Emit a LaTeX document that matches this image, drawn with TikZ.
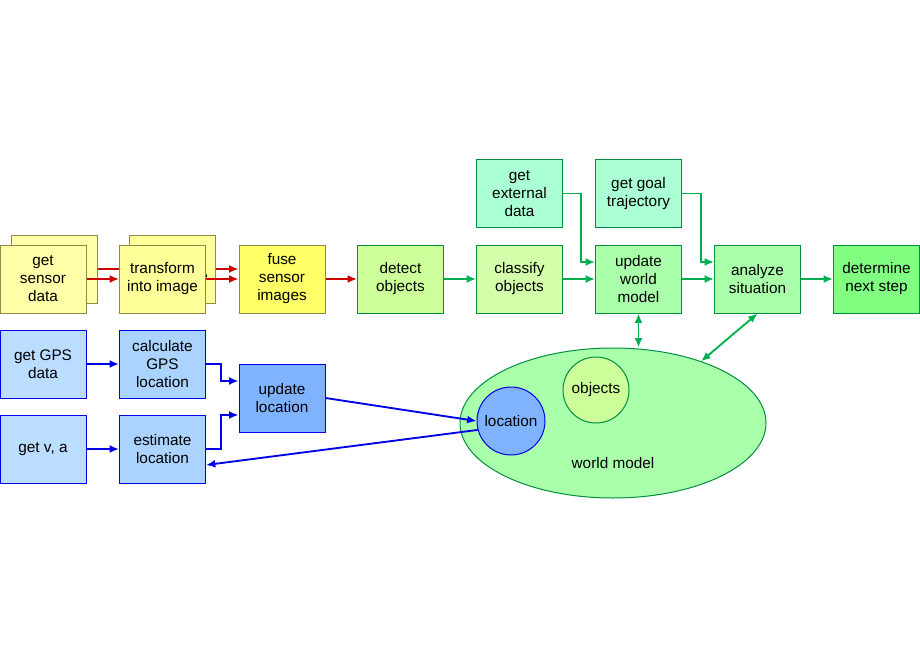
\documentclass[tikz,border=0pt]{standalone}
\usepackage{fontspec}
\setmainfont{Liberation Sans}
\usetikzlibrary{arrows.meta,shapes.geometric}
\definecolor{redline}{RGB}{204,0,0}
\definecolor{blueline}{RGB}{0,0,230}
\definecolor{greenline}{RGB}{0,176,80}
\definecolor{ySensor}{RGB}{255,255,170}
\definecolor{yTrans}{RGB}{255,255,153}
\definecolor{yFuse}{RGB}{255,255,102}
\definecolor{gDetect}{RGB}{204,255,153}
\definecolor{gClassify}{RGB}{212,255,170}
\definecolor{gWorld}{RGB}{170,255,170}
\definecolor{gNext}{RGB}{128,255,128}
\definecolor{gInput}{RGB}{170,255,212}
\definecolor{bInput}{RGB}{187,221,255}
\definecolor{bCalc}{RGB}{170,212,255}
\definecolor{bUpdate}{RGB}{128,179,255}
\tikzset{every picture/.style={line width=0.75pt}}
\tikzset{
  box/.style={draw, minimum width=64.5pt, minimum height=51pt, inner sep=0.75pt, align=center, font=\fontsize{11.5}{13.5}\selectfont},
  ybox/.style={box, draw=yellow!50!black, fill=#1},
  bbox/.style={box, draw=blueline, fill=#1},
  gbox/.style={box, draw=greenline!80!black, fill=#1},
  rarr/.style={draw=redline, line width=1.4pt, -{Latex[length=7pt,width=6pt]}},
  barr/.style={draw=blueline, line width=1.4pt, -{Latex[length=7pt,width=6pt]}},
  garr/.style={draw=greenline, line width=1.4pt, -{Latex[length=7pt,width=6pt]}},
}
\begin{document}
\begin{tikzpicture}[x=0.75pt,y=0.75pt,yscale=-1,xscale=1]
    \useasboundingbox (0,0) rectangle (920,660);
    % Back copies
    \node [ybox=ySensor] (getB) at (54.5,269) {get\\sensor\\data};
    \node [ybox=yTrans] (transB) at (172.5,269) {transform\\into image};
    \draw [rarr] (getB.east) -- (transB.west);
    % Sensor row
    \node [ybox=ySensor] (getSensor) at (43,279) {get\\sensor\\data};
    \node [ybox=yTrans] (transform) at (162.5,279) {transform\\into image};
    \node [ybox=yFuse] (fuse) at (282,279) {fuse\\sensor\\images};
    \draw [rarr] (transB.east) -- (fuse.west |- transB.east);
    \draw [rarr] (getSensor) -- (transform);
    \draw [rarr] (transform) -- (fuse);
    % Object row
    \node [gbox=gDetect] (detect) at (400.5,279) {detect\\objects};
    \node [gbox=gClassify] (classify) at (519.5,279) {classify\\objects};
    \node [gbox=gWorld] (updWorld) at (638.5,279) {update\\world\\model};
    \node [gbox=gWorld] (analyze) at (757.5,279) {analyze\\situation};
    \node [gbox=gNext] (nextStep) at (876.5,279) {determine\\next step};
    \node [gbox=gInput] (external) at (519.5,193.5) {get\\external\\data};
    \node [gbox=gInput] (goal) at (638.5,193.5) {get goal\\trajectory};
    \draw [rarr] (fuse) -- (detect);
    \draw [garr] (detect) -- (classify);
    \draw [garr] (classify) -- (updWorld);
    \draw [garr] (updWorld) -- (analyze);
    \draw [garr] (analyze) -- (nextStep);
    \draw [garr] (external.east) -- ++(18,0) |- ([yshift=-12.75]updWorld.west);
    \draw [garr] (goal.east) -- ++(19,0) |- ([yshift=-12.75]analyze.west);
    % World model
    \node [ellipse, draw=greenline!80!black, fill=gWorld, minimum width=229.5pt, minimum height=112.5pt] (world) at (613,423) {};
    \node [font=\fontsize{11.5}{13.5}\selectfont] (worldLbl) at (613,463) {world model};
    \node [circle, draw=greenline!80!black, fill=gDetect, minimum size=49.5pt, inner sep=0pt, font=\fontsize{11.5}{13.5}\selectfont] (objects) at (596,390) {objects};
    \node [circle, draw=blueline, fill=bUpdate, minimum size=51pt, inner sep=0pt, font=\fontsize{11.5}{13.5}\selectfont] (location) at (511,421) {location};
    \draw [garr, {Latex[length=7pt,width=6pt]}-{Latex[length=7pt,width=6pt]}] (updWorld.south) -- (world.north -| updWorld.south);
    \draw [garr, {Latex[length=7pt,width=6pt]}-{Latex[length=7pt,width=6pt]}] (analyze.south) -- (world.35);
    % Location row
    \node [bbox=bInput] (getGPS) at (43,364) {get GPS\\data};
    \node [bbox=bCalc] (calcGPS) at (162.5,364) {calculate\\GPS\\location};
    \node [bbox=bUpdate] (updLoc) at (282,398) {update\\location};
    \node [bbox=bInput] (getVA) at (43,449) {get v, a};
    \node [bbox=bCalc] (estimate) at (162.5,449) {estimate\\location};
    \draw [barr] (getGPS) -- (calcGPS);
    \draw [barr] (getVA) -- (estimate);
    \draw [barr] (calcGPS.east) -- ++(15,0) |- ([yshift=-12.75]updLoc.west);
    \draw [barr] (estimate.east) -- ++(15,0) |- ([yshift=12.75]updLoc.west);
    \draw [barr] (updLoc.east) -- (location.west);
    \draw [barr] (location.195) -- ([yshift=12]estimate.east);
\end{tikzpicture}
\end{document}
